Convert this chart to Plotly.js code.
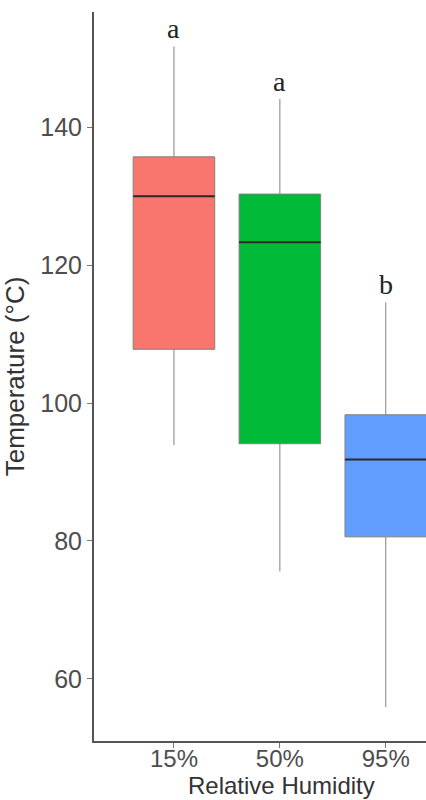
<!DOCTYPE html>
<html>
<head>
<meta charset="utf-8">
<script src="https://cdn.plot.ly/plotly-3.0.1.min.js"></script>
<style>html,body{margin:0;padding:0;background:#fff;}</style>
</head>
<body>
<div id="chart" style="width:426px;height:800px;"></div>
<script>
const categories = ['15%', '50%', '95%'];
const lowerWhisker = [93.9, 75.6, 55.9];
const q1Values = [107.8, 94.1, 80.6];
const medianValues = [130.0, 123.3, 91.8];
const q3Values = [135.7, 130.3, 98.3];
const upperWhisker = [151.7, 144.1, 114.6];
const letters = ['a', 'a', 'b'];
const yTicks = [60, 80, 100, 120, 140];
const fills = ['#F8766D', '#00BA38', '#619CFF'];

const traces = [];
categories.forEach((c, i) => {
  traces.push({
    type: 'box', x: [c], q1: [q1Values[i]], median: [medianValues[i]], q3: [q3Values[i]],
    lowerfence: [lowerWhisker[i]], upperfence: [upperWhisker[i]],
    fillcolor: fills[i], line: {color: '#808080', width: 1}, whiskerwidth: 0,
    width: 0.77, boxpoints: false, showlegend: false, hoverinfo: 'skip'
  });
  traces.push({
    type: 'box', x: [c], q1: [medianValues[i]], median: [medianValues[i]], q3: [medianValues[i]],
    lowerfence: [medianValues[i]], upperfence: [medianValues[i]],
    fillcolor: 'rgba(0,0,0,0)', line: {color: '#2a2a2a', width: 2}, whiskerwidth: 0,
    width: 0.77, boxpoints: false, showlegend: false, hoverinfo: 'skip'
  });
});

const annotations = categories.map((c, i) => ({
  x: c, y: upperWhisker[i], xref: 'x', yref: 'y', text: letters[i], showarrow: false,
  yanchor: 'bottom', yshift: 0,
  font: {family: 'Liberation Serif, Times New Roman, serif', size: 28, color: '#222'}
}));
annotations.push({
  xref: 'paper', yref: 'paper', x: 0.566, y: -0.0809, xanchor: 'center', yanchor: 'bottom',
  text: 'Relative Humidity', showarrow: false, borderpad: 0,
  font: {family: 'Liberation Sans, Arial, sans-serif', size: 24, color: '#333'}
});

const layout = {
  width: 426, height: 800,
  margin: {l: 94, r: 0, t: 12, b: 59},
  paper_bgcolor: '#fff', plot_bgcolor: '#fff',
  boxmode: 'overlay',
  font: {family: 'Liberation Sans, Arial, sans-serif'},
  xaxis: {
    type: 'category', range: [-0.755, 2.38],
    showline: true, linecolor: '#555', linewidth: 2,
    ticks: 'outside', ticklen: 5, tickcolor: '#777', tickwidth: 1,
    ticklabelstandoff: -10,
    showgrid: false, zeroline: false,
    tickfont: {size: 24, color: '#4d4d4d'}
  },
  yaxis: {
    range: [51.0, 156.7],
    tickvals: yTicks,
    showline: true, linecolor: '#555', linewidth: 2,
    ticks: 'outside', ticklen: 5, tickcolor: '#777', tickwidth: 1,
    showgrid: false, zeroline: false,
    tickfont: {size: 25, color: '#4d4d4d'},
    title: {text: 'Temperature (°C)', font: {size: 26, color: '#333'}, standoff: 8}
  },
  annotations: annotations
};

Plotly.newPlot('chart', traces, layout, {displayModeBar: false, staticPlot: true});
</script>
</body>
</html>
